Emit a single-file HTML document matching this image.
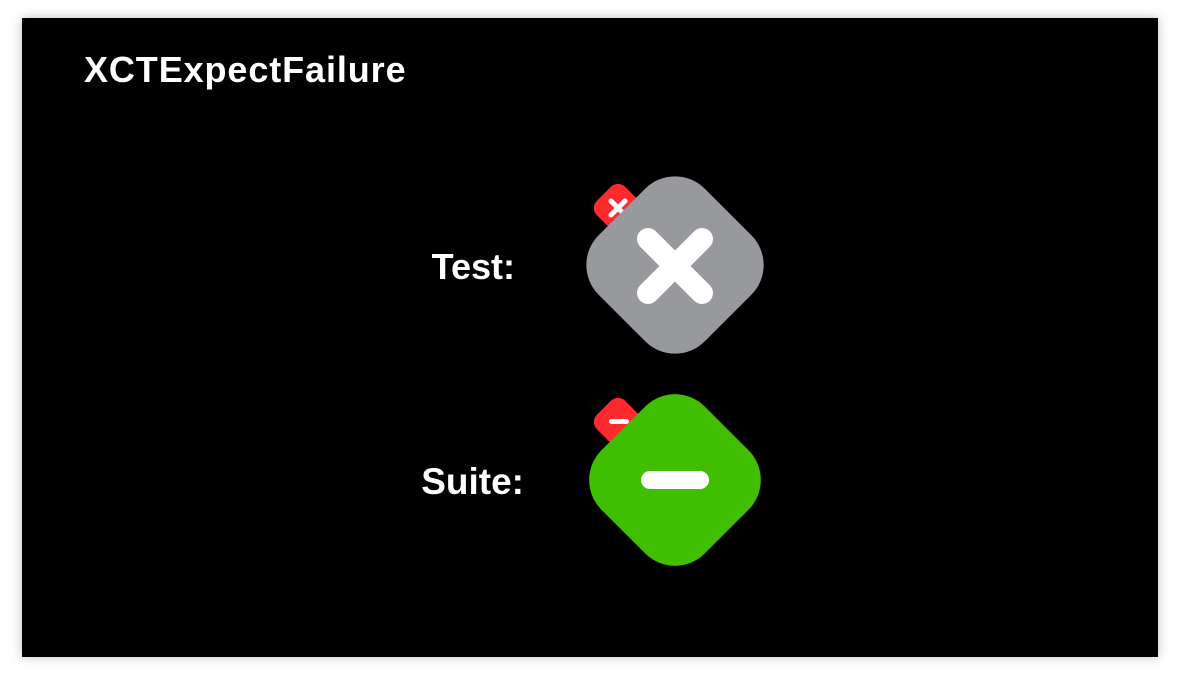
<!DOCTYPE html>
<html><head><style>
html,body{margin:0;padding:0;background:#fff;}
body{width:1180px;height:682px;overflow:hidden;position:relative;}
#panel{position:absolute;left:22px;top:18px;width:1136px;height:639px;background:#000;box-shadow:0 0 10px rgba(0,0,0,0.25);}
svg{position:absolute;left:0;top:0;}
text{font-family:"Liberation Sans",Arial,sans-serif;font-weight:bold;fill:#fff;}
</style></head><body>
<div id="panel"></div>
<svg width="1180" height="682" viewBox="0 0 1180 682">
<text x="84" y="82" font-size="36" letter-spacing="0.9">XCTExpectFailure</text>
<text x="515" y="279" font-size="36" text-anchor="end">Test:</text>
<text x="524" y="494" font-size="37" text-anchor="end">Suite:</text>

<rect x="-20" y="-20" width="40" height="40" rx="10" fill="#fe2a2e" transform="translate(618,208) rotate(45)"/>
<g stroke="#fff" stroke-width="5" stroke-linecap="round">
<line x1="611" y1="201" x2="625" y2="215"/><line x1="625" y1="201" x2="611" y2="215"/>
</g>
<rect x="-75" y="-75" width="150" height="150" rx="42" fill="#98999d" transform="translate(675,265) rotate(45)"/>
<g stroke="#fff" stroke-width="22" stroke-linecap="round">
<line x1="648" y1="239" x2="702" y2="293"/><line x1="702" y1="239" x2="648" y2="293"/>
</g>

<rect x="-20" y="-20" width="40" height="40" rx="10" fill="#fe2a2e" transform="translate(618,422) rotate(45)"/>
<rect x="609" y="419" width="20" height="5" rx="2.5" fill="#fff"/>
<rect x="-73" y="-73" width="146" height="146" rx="42" fill="#40bf02" transform="translate(675,480) rotate(45)"/>
<rect x="641" y="471" width="68" height="18" rx="9" fill="#fff"/>
</svg>
</body></html>
